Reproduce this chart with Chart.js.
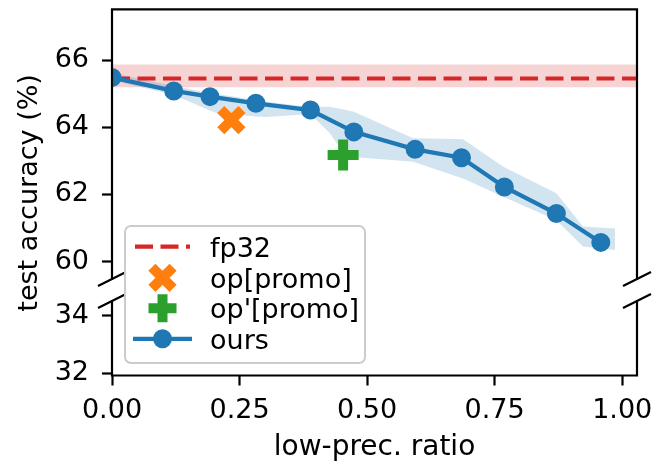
<!DOCTYPE html>
<html><head><meta charset="utf-8">
<script src="https://cdn.jsdelivr.net/npm/chart.js@4/dist/chart.umd.min.js"></script>
<style>html,body{margin:0;padding:0;background:#fff;}canvas{display:block;}</style>
</head><body>
<canvas id="c" width="657" height="466"></canvas>
<script>
// ---- data ----
const oursX = [0.0, 0.121, 0.192, 0.282, 0.389, 0.474, 0.594, 0.685, 0.769, 0.871, 0.958];
const oursY = [65.48, 65.08, 64.91, 64.71, 64.51, 63.86, 63.34, 63.09, 62.22, 61.43, 60.57];
const bandX     = [0.0,   0.121, 0.192, 0.205, 0.282, 0.303, 0.389, 0.427, 0.456, 0.474, 0.590, 0.688, 0.767, 0.871, 0.923, 0.986];
const bandUpper = [65.61, 65.23, 65.02, 64.99, 64.81, 64.76, 64.60, 64.61, 64.52, 64.46, 63.67, 63.64, 62.82, 62.03, 61.04, 60.98];
const bandLower = [65.40, 64.96, 64.50, 64.42, 64.32, 64.30, 64.39, 63.82, 63.17, 63.11, 62.97, 62.47, 61.93, 61.23, 60.45, 60.34];
const fp32Mean = [65.45];
const fp32Upper = [65.87];
const fp32Lower = [65.19];
const opPromoX = [0.234];
const opPromoY = [64.21];
const opPrimeX = [0.453];
const opPrimeY = [63.17];
const xTicks = [0.0, 0.25, 0.5, 0.75, 1.0];
const yTicksUpper = [60, 62, 64, 66];
const yTicksLower = [32, 34];
const xLimits = [0.0, 1.029];
const upperLimits = [59.48, 67.51];
const lowerLimits = [31.92, 34.52];
const legendLabels = ['fp32', 'op[promo]', "op'[promo]", 'ours'];

const BLUE = '#1f77b4', ORANGE = '#ff7f0e', GREEN = '#2ca02c', RED = '#d62728';
const FONT = '"DejaVu Sans", sans-serif';
const FS = 27;

const zip = (xs, ys) => xs.map((x, i) => ({x: x, y: ys[i]}));
const spanX = (vals) => [{x: xLimits[0], y: vals[0]}, {x: xLimits[1], y: vals[0]}];

function fixTicks(list) {
  return function (scale) { scale.ticks = list.map(v => ({value: v})); };
}

const framePlugin = {
  id: 'frame',
  afterDatasetsDraw(chart) {
    const ctx = chart.ctx, a = chart.chartArea;
    const sU = chart.scales.y, sL = chart.scales.yLow;
    ctx.save();
    ctx.strokeStyle = '#000';
    ctx.lineWidth = 2.2;
    ctx.lineCap = 'square';
    ctx.beginPath();
    ctx.moveTo(a.left, sU.bottom); ctx.lineTo(a.left, sU.top);
    ctx.lineTo(a.right, sU.top); ctx.lineTo(a.right, sU.bottom);
    ctx.moveTo(a.left, sL.top); ctx.lineTo(a.left, sL.bottom);
    ctx.lineTo(a.right, sL.bottom); ctx.lineTo(a.right, sL.top);
    ctx.stroke();
    // break marks
    ctx.lineCap = 'butt';
    ctx.beginPath();
    [a.left, a.right].forEach(x => {
      [sU.bottom, sL.top].forEach(y => {
        ctx.moveTo(x - 14, y + 7); ctx.lineTo(x + 14, y - 7);
      });
    });
    ctx.stroke();
    ctx.restore();
  },
  afterDraw(chart) {
    const ctx = chart.ctx;
    ctx.save();
    // y title
    ctx.save();
    ctx.translate(36.7, 311.7);
    ctx.rotate(-Math.PI / 2);
    ctx.font = FS + 'px ' + FONT;
    ctx.fillStyle = '#000';
    ctx.textAlign = 'left';
    ctx.textBaseline = 'alphabetic';
    ctx.fillText('test accuracy (%)', 0, 0);
    ctx.restore();

    // legend
    const bx = 125, by = 226, bw = 240, bh = 137;
    ctx.beginPath();
    ctx.roundRect(bx, by, bw, bh, 6);
    ctx.fillStyle = 'rgba(255,255,255,0.8)';
    ctx.fill();
    ctx.strokeStyle = '#cccccc';
    ctx.lineWidth = 2;
    ctx.stroke();

    const rows = [246.7, 277.8, 308.3, 338.8];
    const mx = 162.5;
    // fp32 dashed
    ctx.save();
    ctx.strokeStyle = RED; ctx.lineWidth = 4.2; ctx.setLineDash([18, 7.5]);
    ctx.beginPath(); ctx.moveTo(135, rows[0]); ctx.lineTo(190, rows[0]); ctx.stroke();
    ctx.restore();
    // X marker
    ctx.save();
    ctx.strokeStyle = ORANGE; ctx.lineWidth = 10;
    const r = 15 * Math.SQRT1_2;
    ctx.beginPath();
    ctx.moveTo(mx - r, rows[1] - r); ctx.lineTo(mx + r, rows[1] + r);
    ctx.moveTo(mx + r, rows[1] - r); ctx.lineTo(mx - r, rows[1] + r);
    ctx.stroke();
    ctx.restore();
    // plus marker
    ctx.save();
    ctx.strokeStyle = GREEN; ctx.lineWidth = 10;
    ctx.beginPath();
    ctx.moveTo(mx - 14, rows[2]); ctx.lineTo(mx + 14, rows[2]);
    ctx.moveTo(mx, rows[2] - 14); ctx.lineTo(mx, rows[2] + 14);
    ctx.stroke();
    ctx.restore();
    // ours
    ctx.save();
    ctx.strokeStyle = BLUE; ctx.lineWidth = 4.2;
    ctx.beginPath(); ctx.moveTo(133, rows[3]); ctx.lineTo(192, rows[3]); ctx.stroke();
    ctx.fillStyle = BLUE;
    ctx.beginPath(); ctx.arc(mx, rows[3], 9.5, 0, Math.PI * 2); ctx.fill();
    ctx.restore();

    ctx.fillStyle = '#000';
    ctx.font = FS + 'px ' + FONT;
    ctx.textAlign = 'left';
    ctx.textBaseline = 'alphabetic';
    legendLabels.forEach((t, i) => ctx.fillText(t, 210, rows[i] + 10));
    ctx.restore();
  }
};

const yCommon = {
  type: 'linear', position: 'left', stack: 'ys', offset: false,
  grid: {drawOnChartArea: false, drawTicks: true, tickLength: 10, tickWidth: 2.2, color: '#000'},
  border: {display: false},
  ticks: {color: '#000', font: {family: FONT, size: FS}, padding: 13, autoSkip: false,
          callback: v => String(v)},
  afterFit(scale) { scale.width = 112; scale.paddingTop = 0; scale.paddingBottom = 0; }
};

new Chart(document.getElementById('c'), {
  type: 'line',
  data: {
    datasets: [
      {label: 'ours', data: zip(oursX, oursY), borderColor: BLUE, backgroundColor: BLUE,
       borderWidth: 4.2, pointRadius: 8.5, pointBorderWidth: 2, pointBackgroundColor: BLUE,
       pointBorderColor: BLUE, fill: false, order: 0, clip: 0, yAxisID: 'y'},
      {label: 'bandUpper', data: zip(bandX, bandUpper), borderWidth: 0, pointRadius: 0,
       fill: false, order: 5, yAxisID: 'y', borderColor: 'rgba(0,0,0,0)'},
      {label: 'bandLower', data: zip(bandX, bandLower), borderWidth: 0, pointRadius: 0,
       fill: '-1', backgroundColor: 'rgba(31,119,180,0.2)', borderColor: 'rgba(0,0,0,0)',
       order: 5, yAxisID: 'y'},
      {label: 'fp32band', data: spanX(fp32Upper), borderWidth: 0, pointRadius: 0,
       fill: {value: fp32Lower[0]}, backgroundColor: 'rgba(214,39,40,0.2)',
       borderColor: 'rgba(0,0,0,0)', order: 6, yAxisID: 'y'},
      {label: 'fp32', data: spanX(fp32Mean), borderColor: RED, borderWidth: 4.2,
       borderDash: [18, 7.5], pointRadius: 0, fill: false, order: 3, yAxisID: 'y'},
      {label: 'op[promo]', data: zip(opPromoX, opPromoY), showLine: false, pointStyle: 'crossRot',
       pointRadius: 15, pointBorderWidth: 10, pointBorderColor: ORANGE, borderColor: ORANGE,
       backgroundColor: ORANGE, order: 2, yAxisID: 'y'},
      {label: "op'[promo]", data: zip(opPrimeX, opPrimeY), showLine: false, pointStyle: 'cross',
       pointRadius: 15.5, pointBorderWidth: 10, pointBorderColor: GREEN, borderColor: GREEN,
       backgroundColor: GREEN, order: 2, yAxisID: 'y'}
    ]
  },
  options: {
    responsive: false, animation: false, devicePixelRatio: 1,
    layout: {autoPadding: false, padding: {top: 9.3, right: 20, bottom: 0, left: 0}},
    plugins: {legend: {display: false}, tooltip: {enabled: false}},
    elements: {line: {tension: 0}},
    scales: {
      x: {
        type: 'linear', position: 'bottom', min: xLimits[0], max: xLimits[1],
        grid: {drawOnChartArea: false, drawTicks: true, tickLength: 10, tickWidth: 2.2, color: '#000'},
        border: {display: false},
        ticks: {color: '#000', font: {family: FONT, size: FS}, padding: 9, autoSkip: false,
                maxRotation: 0, callback: v => v.toFixed(2)},
        afterBuildTicks: fixTicks(xTicks),
        title: {display: true, text: 'low-prec. ratio', color: '#000',
                font: {family: FONT, size: 28}, padding: {top: 0, bottom: 1}},
        afterFit(scale) { scale.height = 90.5; scale.paddingLeft = 0; scale.paddingRight = 0; }
      },
      yLow: Object.assign({}, yCommon, {
        min: lowerLimits[0], max: lowerLimits[1], stackWeight: 74.5, weight: 1,
        afterBuildTicks: fixTicks(yTicksLower)
      }),
      yGap: Object.assign({}, yCommon, {
        min: 0, max: 1, stackWeight: 22, weight: 2,
        grid: {display: false, drawTicks: false}, ticks: {display: false},
        afterBuildTicks: fixTicks([])
      }),
      y: Object.assign({}, yCommon, {
        min: upperLimits[0], max: upperLimits[1], stackWeight: 269.7, weight: 3,
        afterBuildTicks: fixTicks(yTicksUpper)
      })
    }
  },
  plugins: [framePlugin]
});
</script>
</body></html>
